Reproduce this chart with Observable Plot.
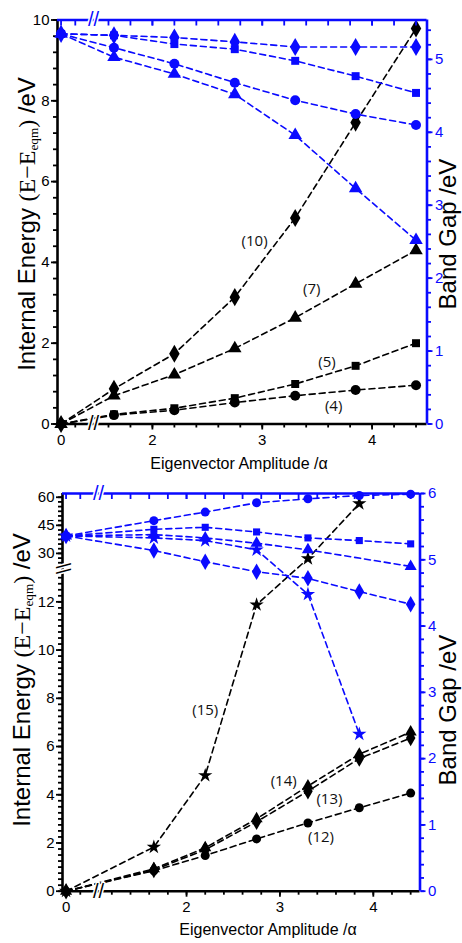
<!DOCTYPE html>
<html>
<head>
<meta charset="utf-8">
<script src="https://cdn.jsdelivr.net/npm/d3@7"></script>
<script src="https://cdn.jsdelivr.net/npm/@observablehq/plot@0.6"></script>
<style>
  html, body { margin: 0; padding: 0; background: #fff; }
  #wrap { position: relative; width: 462px; height: 943px; overflow: hidden; background: #fff; }
  #wrap svg { position: absolute; left: 0; top: 0; }
  .t { position: absolute; white-space: nowrap; font-family: "Liberation Sans", Arial, sans-serif; line-height: 1; color: #000; }
  .yt { font-size: 24px; transform: translate(-50%, -50%) rotate(-90deg); }
  .xt { font-size: 16px; transform: translate(-50%, -50%); }
  .s { font-family: "Liberation Serif", "Times New Roman", serif; }
  .s sub { font-size: 0.55em; line-height: 0; vertical-align: -0.25em; }
</style>
</head>
<body>
<div id="wrap">
  <div class="t yt" style="left:27px;top:224px">Internal Energy <span class="s">(E−E<sub>eqm</sub>)</span> /eV</div>
  <div class="t yt" style="left:448px;top:234px">Band Gap /eV</div>
  <div class="t xt" style="left:239px;top:464px">Eigenvector Amplitude /α</div>
  <div class="t yt" style="left:22px;top:680px">Internal Energy <span class="s">(E−E<sub>eqm</sub>)</span> /eV</div>
  <div class="t yt" style="left:448px;top:710px">Band Gap /eV</div>
  <div class="t xt" style="left:268px;top:930px">Eigenvector Amplitude /α</div>
</div>
<script>
// ---------- data ----------
const amp = [0, 1.65, 2.2, 2.75, 3.3, 3.85, 4.4];

// top panel: internal energy (left axis)
const eTop10 = [0, 0.87, 1.74, 3.14, 5.10, 7.46, 9.79];
const eTop7  = [0, 0.70, 1.22, 1.87, 2.63, 3.47, 4.30];
const eTop5  = [0, 0.24, 0.39, 0.64, 0.99, 1.44, 2.00];
const eTop4  = [0, 0.22, 0.34, 0.53, 0.70, 0.84, 0.96];
// top panel: band gap (right axis)
const gTopDiamond  = [5.35, 5.33, 5.30, 5.24, 5.17, 5.17, 5.17];
const gTopSquare   = [5.35, 5.33, 5.21, 5.14, 4.98, 4.77, 4.54];
const gTopCircle   = [5.35, 5.16, 4.94, 4.68, 4.44, 4.25, 4.10];
const gTopTriangle = [5.35, 5.03, 4.80, 4.52, 3.96, 3.23, 2.52];

// bottom panel: internal energy (left axis, broken)
const eBot15 = [0, 1.83, 4.80, 11.88, 27.2, 56.6, null];
const eBot14 = [0, 0.93, 1.80, 3.00, 4.36, 5.68, 6.60];
const eBot13 = [0, 0.88, 1.72, 2.88, 4.15, 5.50, 6.35];
const eBot12 = [0, 0.85, 1.48, 2.17, 2.83, 3.46, 4.07];
// bottom panel: band gap (right axis)
const gBotCircle   = [5.36, 5.59, 5.72, 5.86, 5.92, 5.97, 5.99];
const gBotSquare   = [5.36, 5.46, 5.49, 5.42, 5.33, 5.29, 5.24];
const gBotTriangle = [5.36, 5.38, 5.33, 5.25, 5.15, null, 4.90];
const gBotDiamond  = [5.36, 5.14, 4.97, 4.82, 4.72, 4.52, 4.33];
const gBotStar     = [5.36, 5.33, 5.29, 5.15, 4.48, 2.37, null];

// curve labels
const topLabels = ["(10)", "(7)", "(5)", "(4)"];
const topLabelX = [2.93, 3.45, 3.59, 3.65];
const topLabelY = [4.53, 3.33, 1.52, 0.45];
const botLabels = ["(15)", "(14)", "(13)", "(12)"];
const botLabelX = [2.20, 3.04, 3.53, 3.44];
const botLabelY = [7.5, 4.55, 3.83, 2.24];

// tick values
const xMajor = [0, 2, 3, 4];
const yTopMajor = [0, 2, 4, 6, 8, 10];
const gTopMajor = [0, 1, 2, 3, 4, 5];
const yBotMajor = [0, 2, 4, 6, 8, 10, 12, 30, 45, 60];
const gBotMajor = [0, 1, 2, 3, 4, 5, 6];

// ---------- helpers ----------
const BLUE = "#0a0aff";
const TICKFONT = "'Liberation Sans Narrow','Arial Narrow','Liberation Sans',Arial,sans-serif";
const DASH = "6,4";
const TFS = 15;
const wrap = document.getElementById("wrap");
const add = (svg) => wrap.appendChild(svg);
const series = (ys) => amp.map((x, i) => ({x, y: ys[i]})).filter(d => d.y != null);
const rng = (a, b, s) => d3.range(Math.round(a / s), Math.round(b / s) + 1).map(k => +(k * s).toFixed(4));
const intFmt = d => String(d);

function curve(ys, symbol, color, r) {
  const data = series(ys);
  return [
    Plot.line(data, {x: "x", y: "y", stroke: color, strokeWidth: 1.6, strokeDasharray: DASH}),
    Plot.dot(data, {x: "x", y: "y", symbol, fill: color, stroke: "none", r})
  ];
}
function labels(txt, xs, ys) {
  const d = txt.map((t, i) => ({t, x: xs[i], y: ys[i]}));
  return Plot.text(d, {x: "x", y: "y", text: "t", fontSize: 15, fontFamily: "'Open Sans',sans-serif", fill: "#111"});
}
const noText = () => "";
const base = {width: 462, style: {background: "transparent", fontFamily: TICKFONT, fontSize: TFS + "px", overflow: "visible"}};

// ---------- top panel ----------
const topXs = {type: "linear", domain: [-0.05, 0.4, 1.5, 4.5], range: [57, 89, 97, 426.5]};
const topDims = {height: 480, marginTop: 19.5, marginBottom: 56.5, marginLeft: 57, marginRight: 35.5};
const topXMinor = [0.2, ...rng(1.6, 4.4, 0.2)];

add(Plot.plot({
  ...base, ...topDims,
  x: topXs,
  y: {type: "linear", domain: [0, 10], range: [423.5, 19.5]},
  marks: [
    ...curve(eTop4, "circle", "black", 5),
    ...curve(eTop5, "square", "black", 4.5),
    ...curve(eTop7, "triangle", "black", 5),
    ...curve(eTop10, "diamond", "black", 5.5),
    labels(topLabels, topLabelX, topLabelY),
    Plot.axisY({anchor: "left", ticks: rng(0, 10, 0.4), tickSize: 4, tickFormat: noText, strokeWidth: 1.8, label: null}),
    Plot.axisY({anchor: "left", ticks: yTopMajor, tickSize: 6, tickPadding: 2, tickFormat: intFmt, strokeWidth: 1.8, fontSize: TFS, label: null}),
    Plot.axisX({anchor: "bottom", ticks: topXMinor, tickSize: 4, tickFormat: noText, strokeWidth: 1.8, label: null}),
    Plot.axisX({anchor: "bottom", ticks: xMajor, tickSize: 6, tickPadding: 4, tickFormat: intFmt, strokeWidth: 1.8, fontSize: TFS, label: null}),
    Plot.ruleX([-0.05], {y1: 0, y2: 10, stroke: "black", strokeWidth: 2.6}),
    Plot.ruleY([0], {x1: -0.05, x2: 4.5, stroke: "black", strokeWidth: 2.6}),
    Plot.text(["//"], {x: 0.95, y: 0, text: d => d, fontSize: 20, fontFamily: "'Liberation Sans',sans-serif", fill: "black", stroke: "white", strokeWidth: 3})
  ]
}));

add(Plot.plot({
  ...base, ...topDims,
  x: topXs,
  y: {type: "linear", domain: [0, 5.54], range: [423.5, 19.5]},
  marks: [
    ...curve(gTopTriangle, "triangle", BLUE, 5),
    ...curve(gTopCircle, "circle", BLUE, 5),
    ...curve(gTopSquare, "square", BLUE, 4.5),
    ...curve(gTopDiamond, "diamond", BLUE, 5.5),
    Plot.axisY({anchor: "right", ticks: rng(0, 5.4, 0.2), tickSize: 3.5, tickFormat: noText, stroke: BLUE, strokeWidth: 1.8, label: null}),
    Plot.axisY({anchor: "right", ticks: gTopMajor, tickSize: 5, tickPadding: 3, tickFormat: intFmt, color: BLUE, strokeWidth: 1.8, fontSize: TFS, label: null}),
    Plot.axisX({anchor: "top", ticks: [...topXMinor, ...xMajor], tickSize: -5, tickFormat: noText, stroke: BLUE, strokeWidth: 1.8, label: null}),
    Plot.ruleY([5.54], {x1: -0.05, x2: 4.5, stroke: BLUE, strokeWidth: 2.6}),
    Plot.ruleX([4.5], {y1: 0, y2: 5.54, stroke: BLUE, strokeWidth: 2.6}),
    Plot.text(["//"], {x: 0.95, y: 5.54, text: d => d, fontSize: 20, fontFamily: "'Liberation Sans',sans-serif", fill: BLUE, stroke: "white", strokeWidth: 3})
  ]
}));

// ---------- bottom panel ----------
const botXs = {type: "linear", domain: [-0.05, 0.4, 1.1, 4.5], range: [62, 94, 102, 419.5]};
const botDims = {height: 943, marginTop: 493, marginBottom: 52.3, marginLeft: 62, marginRight: 42.5};
const botXMinor = [0.2, ...rng(1.2, 4.4, 0.2)];
const botYMinor = [...rng(0, 13, 0.25), ...rng(25, 60, 2.5)];

add(Plot.plot({
  ...base, ...botDims,
  x: botXs,
  y: {type: "linear", domain: [0, 13.3, 23, 62], range: [890.7, 570, 566, 493]},
  marks: [
    ...curve(eBot12, "circle", "black", 4.5),
    ...curve(eBot13, "diamond", "black", 5),
    ...curve(eBot14, "triangle", "black", 4.5),
    ...curve(eBot15, "star", "black", 4.5),
    labels(botLabels, botLabelX, botLabelY),
    Plot.axisY({anchor: "left", ticks: botYMinor, tickSize: 4, tickFormat: noText, strokeWidth: 1.8, label: null}),
    Plot.axisY({anchor: "left", ticks: yBotMajor, tickSize: 6, tickPadding: 2, tickFormat: intFmt, strokeWidth: 1.8, fontSize: TFS, label: null}),
    Plot.axisX({anchor: "bottom", ticks: botXMinor, tickSize: 4, tickFormat: noText, strokeWidth: 1.8, label: null}),
    Plot.axisX({anchor: "bottom", ticks: xMajor, tickSize: 6, tickPadding: 4, tickFormat: intFmt, strokeWidth: 1.8, fontSize: TFS, label: null}),
    Plot.ruleX([-0.05], {y1: 0, y2: 62, stroke: "black", strokeWidth: 2.6}),
    Plot.ruleY([0], {x1: -0.05, x2: 4.5, stroke: "black", strokeWidth: 2.6}),
    Plot.text(["//"], {x: 0.75, y: 0, text: d => d, fontSize: 20, fontFamily: "'Liberation Sans',sans-serif", fill: "black", stroke: "white", strokeWidth: 3}),
    Plot.text(["\\\\"], {x: -0.05, y: 18, text: d => d, rotate: 90, fontSize: 20, fontFamily: "'Liberation Sans',sans-serif", fill: "black", stroke: "white", strokeWidth: 3})
  ]
}));

add(Plot.plot({
  ...base, ...botDims,
  x: botXs,
  y: {type: "linear", domain: [0, 6], range: [890.7, 493]},
  marks: [
    ...curve(gBotStar, "star", BLUE, 4.5),
    ...curve(gBotDiamond, "diamond", BLUE, 5),
    ...curve(gBotTriangle, "triangle", BLUE, 4.5),
    ...curve(gBotSquare, "square", BLUE, 4),
    ...curve(gBotCircle, "circle", BLUE, 4.5),
    Plot.axisY({anchor: "right", ticks: rng(0, 6, 0.2), tickSize: 3.5, tickFormat: noText, stroke: BLUE, strokeWidth: 1.8, label: null}),
    Plot.axisY({anchor: "right", ticks: gBotMajor, tickSize: 5, tickPadding: 3, tickFormat: intFmt, color: BLUE, strokeWidth: 1.8, fontSize: TFS, label: null}),
    Plot.axisX({anchor: "top", ticks: [...botXMinor, ...xMajor], tickSize: -5, tickFormat: noText, stroke: BLUE, strokeWidth: 1.8, label: null}),
    Plot.ruleY([6], {x1: -0.05, x2: 4.5, stroke: BLUE, strokeWidth: 2.6}),
    Plot.ruleX([4.5], {y1: 0, y2: 6, stroke: BLUE, strokeWidth: 2.6}),
    Plot.text(["//"], {x: 0.75, y: 6, text: d => d, fontSize: 20, fontFamily: "'Liberation Sans',sans-serif", fill: BLUE, stroke: "white", strokeWidth: 3})
  ]
}));
</script>
</body>
</html>
